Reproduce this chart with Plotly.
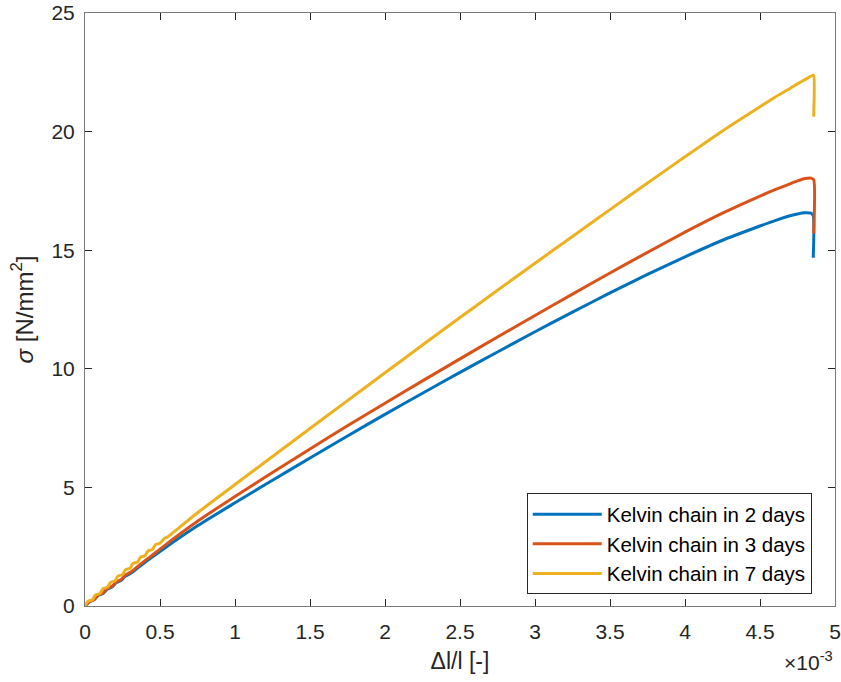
import plotly.graph_objects as go

# strain values in units of 1e-3 (axis shows x10^-3)
x_2d = [0, 0.03, 0.06, 0.09, 0.12, 0.15, 0.18, 0.21, 0.24, 0.27, 0.30, 0.35, 0.40, 0.45, 0.5,
        0.75, 1.0, 1.25, 1.5, 1.75, 2.0, 2.25, 2.5, 2.75, 3.0, 3.25, 3.5, 3.75, 4.0, 4.25,
        4.5, 4.6, 4.7, 4.75, 4.8, 4.84, 4.855, 4.855]
y_2d = [0, 0.18, 0.26, 0.45, 0.53, 0.72, 0.80, 0.99, 1.07, 1.26, 1.36, 1.6, 1.84, 2.07, 2.3,
        3.38, 4.35, 5.3, 6.24, 7.17, 8.08, 8.97, 9.85, 10.71, 11.56, 12.39, 13.2, 13.98, 14.72, 15.42,
        16.02, 16.25, 16.45, 16.53, 16.58, 16.56, 16.45, 14.68]

x_3d = [0, 0.03, 0.06, 0.09, 0.12, 0.15, 0.18, 0.21, 0.24, 0.27, 0.30, 0.35, 0.40, 0.45, 0.5,
        0.75, 1.0, 1.25, 1.5, 1.75, 2.0, 2.25, 2.5, 2.75, 3.0, 3.25, 3.5, 3.75, 4.0, 4.25,
        4.5, 4.6, 4.7, 4.75, 4.8, 4.84, 4.858, 4.858]
y_3d = [0, 0.19, 0.27, 0.47, 0.55, 0.75, 0.83, 1.03, 1.11, 1.31, 1.41, 1.66, 1.91, 2.15, 2.4,
        3.57, 4.62, 5.63, 6.62, 7.6, 8.55, 9.49, 10.42, 11.34, 12.25, 13.15, 14.04, 14.91, 15.76, 16.56,
        17.28, 17.55, 17.8, 17.92, 18.02, 18.04, 17.97, 15.71]

x_7d = [0, 0.02, 0.05, 0.07, 0.10, 0.12, 0.15, 0.17, 0.20, 0.22, 0.25, 0.27, 0.30, 0.32, 0.35,
        0.37, 0.40, 0.42, 0.45, 0.47, 0.5, 0.53, 0.55, 0.75, 1.0, 1.25, 1.5, 1.75, 2.0, 2.25, 2.5,
        2.75, 3.0, 3.25, 3.5, 3.75, 4.0, 4.25, 4.5, 4.6, 4.7, 4.75, 4.8, 4.83, 4.85, 4.858, 4.858]
y_7d = [0, 0.2, 0.265, 0.465, 0.53, 0.73, 0.795, 0.995, 1.06, 1.26, 1.325, 1.525, 1.59, 1.79, 1.855,
        2.055, 2.12, 2.32, 2.385, 2.585, 2.65, 2.85, 2.91, 3.93, 5.12, 6.3, 7.48, 8.66, 9.83, 11.0, 12.16,
        13.31, 14.45, 15.58, 16.71, 17.83, 18.94, 20.03, 21.05, 21.45, 21.82, 22.01, 22.19, 22.3, 22.37, 22.36, 20.63]

names = ["Kelvin chain in 2 days", "Kelvin chain in 3 days", "Kelvin chain in 7 days"]
colors = ["#0072BD", "#D95319", "#EDB120"]

x_ticks = [0, 0.5, 1, 1.5, 2, 2.5, 3, 3.5, 4, 4.5, 5]
y_ticks = [0, 5, 10, 15, 20, 25]

FONT = "Liberation Sans, Arial, Helvetica, sans-serif"
TXT = "#262626"
fig = go.Figure()
for xs, ys, nm, c in zip([x_2d, x_3d, x_7d], [y_2d, y_3d, y_7d], names, colors):
    fig.add_trace(go.Scatter(x=xs, y=ys, mode="lines", name=nm,
                             line=dict(color=c, width=3, shape="spline", smoothing=0.6)))

axis_common = dict(showgrid=False, zeroline=False, showline=True, linecolor="#7a7a7a",
                   linewidth=1, mirror="allticks", ticks="inside", ticklen=7,
                   tickcolor=TXT, tickwidth=1, automargin=False,
                   tickfont=dict(family=FONT, size=21, color=TXT))

fig.update_xaxes(range=[0, 5], tickvals=x_ticks, ticktext=[f"{v:g}" for v in x_ticks],
                 ticklabelstandoff=7,
                 title=dict(text="\u0394l/l [-]", font=dict(family=FONT, size=23, color=TXT),
                            standoff=10),
                 **axis_common)
fig.update_yaxes(range=[0, 25], tickvals=y_ticks, ticktext=[str(v) for v in y_ticks],
                 ticklabelstandoff=5,
                 title=dict(text="<i>\u03c3</i> [N/mm<sup>2</sup>]",
                            font=dict(family=FONT, size=24, color=TXT), standoff=11),
                 **axis_common)

fig.add_annotation(text="\u00d710<sup>-3</sup>", xref="paper", yref="paper", x=1.0, y=-0.068,
                   xanchor="right", yanchor="top", showarrow=False,
                   font=dict(family=FONT, size=21, color=TXT))

fig.update_layout(
    width=841, height=682,
    margin=dict(l=85, r=6, t=13, b=76),
    paper_bgcolor="white", plot_bgcolor="white",
    showlegend=True,
    legend=dict(x=0.589, y=0.19, xanchor="left", yanchor="top",
                bgcolor="white", bordercolor=TXT, borderwidth=1,
                font=dict(family=FONT, size=20.5, color="#000000"),
                itemwidth=69, tracegroupgap=0),
)

fig.write_html("out.html")
